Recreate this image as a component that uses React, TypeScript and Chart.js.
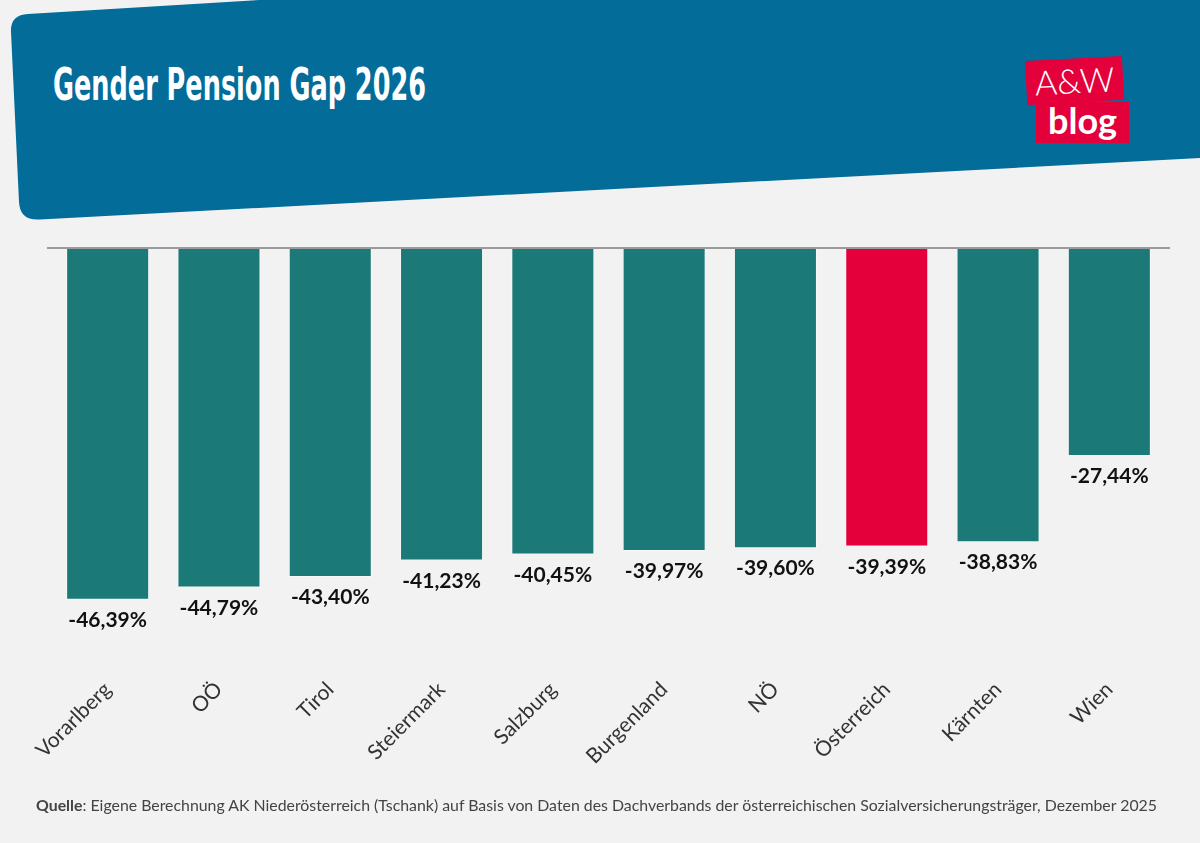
import React, { useEffect, useLayoutEffect, useRef } from "react";
import { Chart, registerables } from "chart.js";

Chart.register(...registerables);

const categories = ["Vorarlberg", "OÖ", "Tirol", "Steiermark", "Salzburg", "Burgenland", "NÖ", "Österreich", "Kärnten", "Wien"];
const gapValues = [-46.39, -44.79, -43.4, -41.23, -40.45, -39.97, -39.6, -39.39, -38.83, -27.44];
const highlightCategory = "Österreich";
const titleText = "Gender Pension Gap 2026";
const sourceLabel = "Quelle";
const sourceText = ": Eigene Berechnung AK Niederösterreich (Tschank) auf Basis von Daten des Dachverbands der österreichischen Sozialversicherungsträger, Dezember 2025";

const TEAL = "#1b7a78";
const RED = "#e4003a";
const BLUE = "#036c99";
const BG = "#f2f2f2";

function FitText({ width, style, children }: { width: number; style: React.CSSProperties; children: React.ReactNode }) {
  const ref = useRef<HTMLSpanElement>(null);
  useLayoutEffect(() => {
    const el = ref.current;
    if (!el) return;
    el.style.transform = "none";
    const w = el.getBoundingClientRect().width;
    if (w > 0) el.style.transform = `scaleX(${width / w})`;
  }, [width]);
  return (
    <span ref={ref} style={{ display: "inline-block", whiteSpace: "nowrap", transformOrigin: "left center", ...style }}>
      {children}
    </span>
  );
}

const fmt = (v: number) => v.toFixed(2).replace(".", ",") + "%";

export default function App() {
  const canvasRef = useRef<HTMLCanvasElement>(null);

  useEffect(() => {
    if (!canvasRef.current) return;
    const zeroLine = {
      id: "zeroLine",
      afterDatasetsDraw(chart: any) {
        const { ctx, scales } = chart;
        const y = scales.y.getPixelForValue(0);
        ctx.save();
        ctx.strokeStyle = "#9a9a9a";
        ctx.lineWidth = 2;
        ctx.beginPath();
        ctx.moveTo(47, y);
        ctx.lineTo(1170, y);
        ctx.stroke();
        ctx.restore();
      },
    };
    const valueLabels = {
      id: "valueLabels",
      afterDatasetsDraw(chart: any) {
        const { ctx } = chart;
        const meta = chart.getDatasetMeta(0);
        ctx.save();
        ctx.fillStyle = "#111";
        ctx.font = "bold 21px 'Lato'";
        ctx.textAlign = "center";
        ctx.textBaseline = "alphabetic";
        meta.data.forEach((bar: any, i: number) => {
          ctx.fillText(fmt(gapValues[i]), bar.x, bar.y + 27);
        });
        ctx.restore();
      },
    };
    const chart = new Chart(canvasRef.current, {
      type: "bar",
      data: {
        labels: categories,
        datasets: [
          {
            data: gapValues,
            backgroundColor: categories.map((c) => (c === highlightCategory ? RED : TEAL)),
            borderColor: "rgba(255,255,255,0.45)",
            borderWidth: 1,
            barPercentage: 0.746,
            categoryPercentage: 1,
          },
        ],
      },
      options: {
        animation: false,
        responsive: false,
        maintainAspectRatio: false,
        layout: { padding: { left: 52, right: 35, top: 248, bottom: 0 } },
        plugins: { legend: { display: false }, tooltip: { enabled: false } },
        scales: {
          x: {
            grid: { display: false, drawTicks: false },
            border: { display: false },
            afterFit: (scale: any) => {
              scale.paddingLeft = 0;
              scale.paddingRight = 0;
              scale.height = 216;
            },
            ticks: {
              minRotation: 45,
              maxRotation: 45,
              padding: 50,
              color: "#333",
              font: { family: "Lato", size: 21 },
            },
          },
          y: { display: false, min: -50, max: 0 },
        },
      },
      plugins: [zeroLine, valueLabels],
    });
    return () => chart.destroy();
  }, []);

  return (
    <div style={{ position: "absolute", left: 0, top: 0, width: 1200, height: 843, background: BG, overflow: "hidden" }}>
      <svg width={1200} height={843} style={{ position: "absolute", left: 0, top: 0 }}>
        <path
          d="M 11 32 Q 10 15 28 14 L 260 0 L 1200 0 L 1200 158 L 40 219.5 Q 20 221 19 202 Z"
          fill={BLUE}
        />
      </svg>
      <div style={{ position: "absolute", left: 53, top: 58, color: "#fff" }}>
        <FitText width={373} style={{ font: "bold 45px 'Liberation Sans Narrow', 'DejaVu Sans Condensed', sans-serif" }}>
          {titleText}
        </FitText>
      </div>
      <div
        style={{
          position: "absolute",
          left: 1025,
          top: 61,
          width: 97,
          height: 44,
          background: RED,
          transform: "rotate(-3deg)",
          transformOrigin: "left top",
          color: "#fff",
          font: "300 34px 'Lato', sans-serif",
          lineHeight: "44px",
          textAlign: "center",
        }}
      >
        A&amp;W
      </div>
      <div
        style={{
          position: "absolute",
          left: 1036,
          top: 102,
          width: 93,
          height: 41,
          background: RED,
          color: "#fff",
          font: "bold 36px 'Lato', sans-serif",
          lineHeight: "36px",
          textAlign: "center",
        }}
      >
        blog
      </div>
      <canvas ref={canvasRef} width={1200} height={843} style={{ position: "absolute", left: 0, top: 0, width: 1200, height: 843 }} />
      <div style={{ position: "absolute", left: 36, top: 795, color: "#444" }}>
        <FitText width={1121} style={{ font: "16px 'Lato', sans-serif" }}>
          <b>{sourceLabel}</b>
          {sourceText}
        </FitText>
      </div>
    </div>
  );
}
